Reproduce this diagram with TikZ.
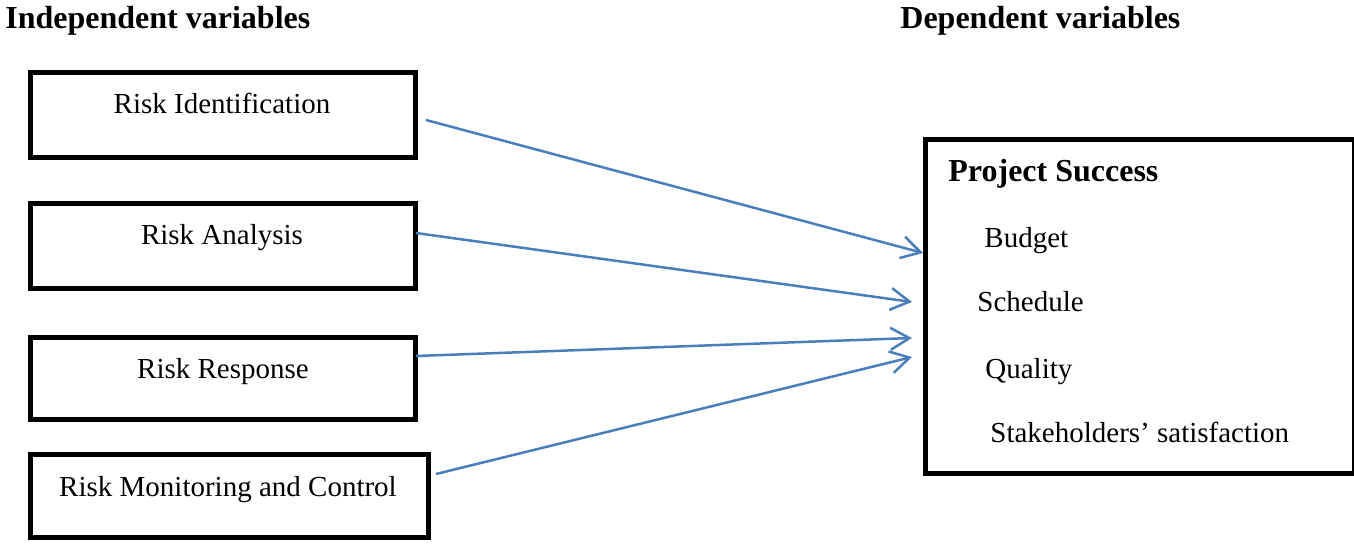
\documentclass[tikz,border=0pt]{standalone}
\usepackage{fontspec}
\setmainfont{Liberation Serif}
\usetikzlibrary{arrows.meta}
\definecolor{linkblue}{HTML}{4A7EBB}
\tikzset{
  varbox/.style={draw=black, line width=2.5pt, rectangle, inner sep=0pt},
  boxtext/.style={inner sep=0pt, anchor=base, font=\fontsize{14.5}{17}\selectfont},
  itemtext/.style={inner sep=0pt, anchor=base west, font=\fontsize{14.5}{17}\selectfont},
  headtext/.style={inner sep=0pt, anchor=base west, font=\fontsize{16}{19}\selectfont\bfseries},
  link/.style={draw=linkblue, line width=1.25pt,
    -{Straight Barb[length=9.5pt, width=11pt, line width=1.25pt]}}
}
\begin{document}
\begin{tikzpicture}[x=0.5pt, y=-0.5pt]
\useasboundingbox (0,0) rectangle (1354,544);

% column headings
\node[headtext] (hind) at (5,29) {Independent variables};
\node[headtext] (hdep) at (900,29) {Dependent variables};

% independent variable boxes
\node[varbox, minimum width=192.5pt, minimum height=42.5pt] (b1) at (222.5,115) {};
\node[varbox, minimum width=192.5pt, minimum height=42.5pt] (b2) at (222.5,246.5) {};
\node[varbox, minimum width=192.5pt, minimum height=41pt] (b3) at (222.5,378.5) {};
\node[varbox, minimum width=199pt, minimum height=41.5pt] (b4) at (229,496.5) {};

\node[boxtext] (t1) at (222,114) {Risk Identification};
\node[boxtext] (t2) at (222,245) {Risk Analysis};
\node[boxtext] (t3) at (223,379) {Risk Response};
\node[boxtext] (t4) at (228,497) {Risk Monitoring and Control};

% dependent variable box
\node[varbox, minimum width=214.5pt, minimum height=167pt] (ps) at (1140,306.5) {};
\node[headtext] (pst) at (948,182) {Project Success};
\node[itemtext] (i1) at (984,248) {Budget};
\node[itemtext] (i2) at (977,312) {Schedule};
\node[itemtext] (i3) at (985,379) {Quality};
\node[itemtext] (i4) at (990,443) {Stakeholders’ satisfaction};

% connector ends
\coordinate (s1) at (426,120);
\coordinate (s2) at (416,233);
\coordinate (s3) at (416,356);
\coordinate (s4) at (436,474);
\coordinate (e1) at (923,253);
\coordinate (e2) at (912,302);
\coordinate (e3) at (912,338);
\coordinate (e4) at (912,357);

\draw[link] (s1) -- (e1);
\draw[link] (s2) -- (e2);
\draw[link] (s3) -- (e3);
\draw[link] (s4) -- (e4);
\end{tikzpicture}
\end{document}
